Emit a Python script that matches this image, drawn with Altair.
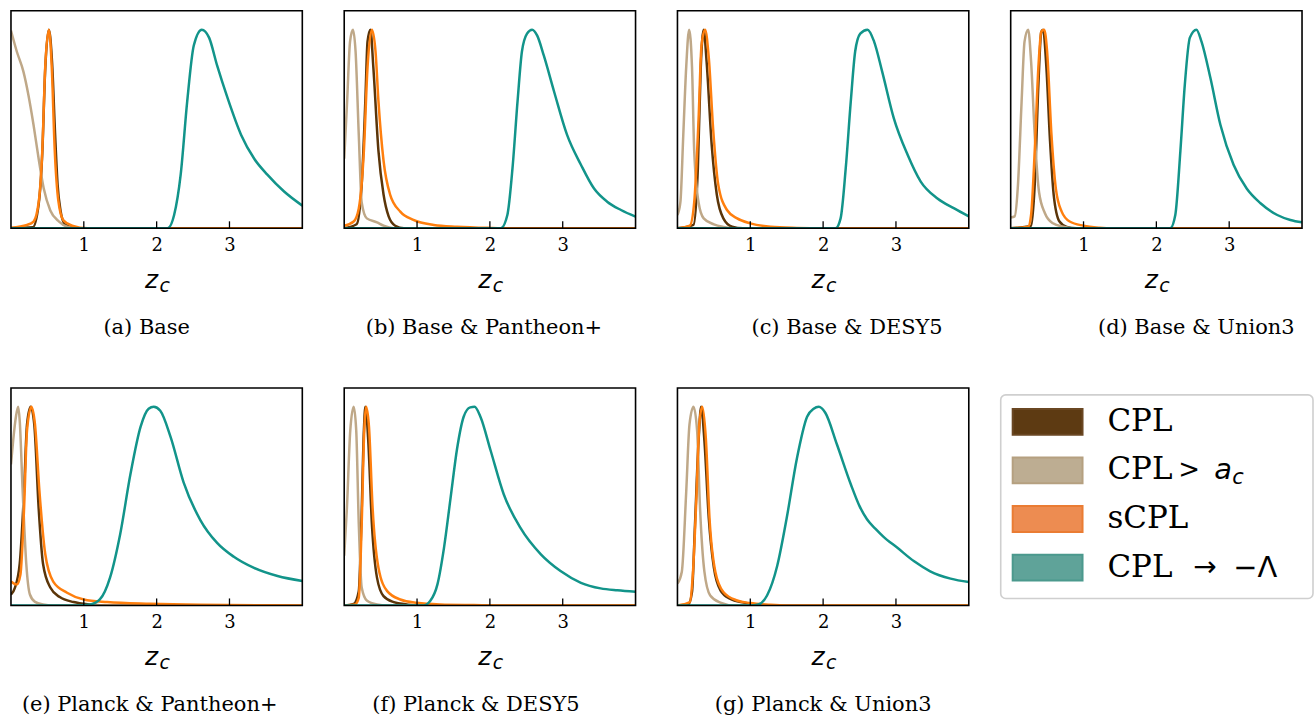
import altair as alt
import pandas as pd

# ---------------- data ----------------
SERIES = ["CPL", "CPL > a_c", "sCPL", "CPL → −Λ"]
LINE_COLORS = ["#5b3509", "#bfa888", "#ff7f0e", "#12948a"]
PATCH_FILL = ["#5d3a12", "#bdad92", "#ed8c51", "#5fa399"]
PATCH_EDGE = ["#6a4723", "#b5a080", "#ea7c33", "#4b998d"]
LEGEND_MAIN = ["CPL", "CPL", "sCPL", "CPL"]
CAPTIONS = ["(a) Base", "(b) Base & Pantheon+", "(c) Base & DESY5", "(d) Base & Union3",
            "(e) Planck & Pantheon+", "(f) Planck & DESY5", "(g) Planck & Union3"]
TICKS = [1, 2, 3]
X_DOMAIN = [0, 4]
Y_DOMAIN = [0, 1.095]

# (a) Base
CPL_A = [(0, 0), (0.3, 0.005), (0.38, 0.12), (0.43, 0.38), (0.47, 0.8), (0.52, 1.0), (0.565, 0.83),
         (0.605, 0.48), (0.64, 0.22), (0.68, 0.09), (0.74, 0.02), (0.85, 0.003), (1.0, 0), (4, 0)]
ACS_A = [(0, 0.995), (0.08, 0.89), (0.17, 0.79), (0.24, 0.67), (0.31, 0.52), (0.38, 0.35), (0.45, 0.2),
         (0.54, 0.09), (0.66, 0.034), (0.77, 0.008), (0.91, 0), (4, 0)]
SCPL_A = [(0, 0.003), (0.22, 0.017), (0.31, 0.034), (0.38, 0.13), (0.43, 0.39), (0.47, 0.81), (0.52, 1.0),
          (0.56, 0.81), (0.6, 0.4), (0.65, 0.14), (0.72, 0.04), (0.84, 0.013), (1.05, 0), (4, 0)]
LAM_A = [(0, 0), (2.15, 0), (2.24, 0.067), (2.33, 0.27), (2.42, 0.64), (2.51, 0.92), (2.62, 1.0),
         (2.72, 0.96), (2.83, 0.82), (2.97, 0.66), (3.16, 0.47), (3.34, 0.35), (3.52, 0.27),
         (3.75, 0.185), (4.0, 0.114)]

# (b) Base & Pantheon+
CPL_B = [(0, 0), (0.17, 0.02), (0.24, 0.22), (0.29, 0.64), (0.32, 0.94), (0.36, 1.0), (0.40, 0.81),
         (0.47, 0.39), (0.54, 0.17), (0.61, 0.06), (0.70, 0.013), (0.82, 0), (4, 0)]
ACS_B = [(0, 0.35), (0.04, 0.64), (0.08, 0.94), (0.12, 1.0), (0.156, 0.89), (0.2, 0.47), (0.24, 0.13),
         (0.31, 0.05), (0.45, 0.03), (0.54, 0.013), (0.68, 0), (4, 0)]
SCPL_B = [(0, 0.013), (0.13, 0.034), (0.2, 0.1), (0.27, 0.39), (0.32, 0.81), (0.38, 1.0), (0.43, 0.89),
          (0.47, 0.64), (0.54, 0.34), (0.63, 0.17), (0.77, 0.084), (0.95, 0.042), (1.23, 0.017),
          (1.55, 0.008), (2.0, 0.002), (2.3, 0), (4, 0)]
LAM_B = [(0, 0), (2.15, 0), (2.24, 0.067), (2.31, 0.30), (2.38, 0.64), (2.44, 0.89), (2.51, 0.98),
         (2.58, 1.0), (2.65, 0.97), (2.74, 0.87), (2.88, 0.69), (3.06, 0.47), (3.25, 0.32), (3.43, 0.2),
         (3.61, 0.134), (3.80, 0.092), (4.0, 0.059)]

# (c) Base & DESY5
CPL_C = [(0, 0), (0.22, 0.017), (0.28, 0.3), (0.32, 0.81), (0.36, 1.0), (0.4, 0.84), (0.47, 0.42),
         (0.54, 0.17), (0.63, 0.05), (0.75, 0.008), (0.9, 0), (4, 0)]
ACS_C = [(0, 0.067), (0.04, 0.13), (0.08, 0.47), (0.12, 0.81), (0.16, 1.0), (0.2, 0.81), (0.23, 0.39),
         (0.29, 0.13), (0.36, 0.05), (0.5, 0.02), (0.63, 0.007), (0.77, 0), (4, 0)]
SCPL_C = [(0, 0), (0.17, 0.013), (0.23, 0.13), (0.29, 0.55), (0.33, 0.92), (0.38, 1.0), (0.43, 0.86),
          (0.49, 0.5), (0.56, 0.22), (0.68, 0.092), (0.82, 0.05), (1.0, 0.025), (1.28, 0.008),
          (1.64, 0.002), (2.0, 0), (4, 0)]
LAM_C = [(0, 0), (2.17, 0), (2.24, 0.05), (2.31, 0.3), (2.38, 0.64), (2.44, 0.89), (2.51, 0.98),
         (2.61, 1.0), (2.7, 0.94), (2.81, 0.79), (2.97, 0.555), (3.16, 0.37), (3.34, 0.235),
         (3.57, 0.15), (3.8, 0.1), (4.0, 0.06)]

# (d) Base & Union3
CPL_D = [(0, 0), (0.28, 0.013), (0.33, 0.22), (0.38, 0.72), (0.42, 0.99), (0.445, 1.0), (0.49, 0.81),
         (0.54, 0.44), (0.59, 0.17), (0.67, 0.034), (0.77, 0.007), (0.9, 0), (4, 0)]
ACS_D = [(0, 0.054), (0.055, 0.06), (0.1, 0.22), (0.15, 0.64), (0.19, 0.94), (0.24, 1.0), (0.28, 0.84),
         (0.33, 0.47), (0.39, 0.18), (0.47, 0.076), (0.58, 0.025), (0.72, 0.008), (0.9, 0), (4, 0)]
SCPL_D = [(0, 0), (0.24, 0.008), (0.28, 0.067), (0.33, 0.39), (0.38, 0.81), (0.42, 0.99), (0.46, 1.0),
          (0.5, 0.89), (0.56, 0.47), (0.62, 0.2), (0.7, 0.084), (0.81, 0.034), (1.0, 0.013),
          (1.22, 0.003), (1.4, 0), (4, 0)]
LAM_D = [(0, 0), (2.19, 0), (2.26, 0.067), (2.33, 0.39), (2.39, 0.72), (2.46, 0.96), (2.55, 1.0),
         (2.62, 0.94), (2.74, 0.76), (2.88, 0.52), (3.06, 0.32), (3.24, 0.2), (3.43, 0.126),
         (3.66, 0.067), (3.84, 0.042), (4.0, 0.03)]

# (e) Planck & Pantheon+
CPL_E = [(0, 0.055), (0.055, 0.09), (0.12, 0.21), (0.18, 0.58), (0.22, 0.91), (0.27, 1.0), (0.32, 0.91),
         (0.38, 0.49), (0.44, 0.21), (0.54, 0.09), (0.67, 0.042), (0.86, 0.017), (1.09, 0.005),
         (1.32, 0), (4, 0)]
ACS_E = [(0, 0.71), (0.03, 0.83), (0.07, 0.955), (0.1, 1.0), (0.12, 0.93), (0.16, 0.58), (0.21, 0.21),
         (0.26, 0.055), (0.33, 0.018), (0.44, 0.005), (0.58, 0), (4, 0)]
SCPL_E = [(0, 0.12), (0.08, 0.105), (0.13, 0.156), (0.18, 0.49), (0.22, 0.88), (0.28, 1.0), (0.33, 0.91),
          (0.39, 0.58), (0.47, 0.26), (0.58, 0.12), (0.77, 0.064), (1.0, 0.03), (1.32, 0.017),
          (1.91, 0.008), (2.6, 0.003), (4, 0)]
LAM_E = [(0, 0), (0.9, 0), (1.09, 0.005), (1.22, 0.03), (1.36, 0.14), (1.5, 0.36), (1.64, 0.66),
         (1.78, 0.9), (1.89, 0.99), (1.96, 1.0), (2.05, 0.98), (2.19, 0.85), (2.37, 0.62), (2.6, 0.43),
         (2.83, 0.315), (3.06, 0.245), (3.33, 0.19), (3.66, 0.148), (4.0, 0.123)]

# (f) Planck & DESY5
CPL_F = [(0, 0), (0.13, 0.008), (0.2, 0.072), (0.235, 0.41), (0.27, 0.88), (0.29, 1.0), (0.33, 0.83),
         (0.38, 0.41), (0.45, 0.14), (0.54, 0.047), (0.68, 0.017), (0.86, 0.005), (1.0, 0), (4, 0)]
ACS_F = [(0, 0.25), (0.037, 0.49), (0.083, 0.88), (0.13, 1.0), (0.165, 0.88), (0.2, 0.41), (0.24, 0.09),
         (0.31, 0.025), (0.45, 0.005), (0.59, 0), (4, 0)]
SCPL_F = [(0, 0), (0.15, 0.005), (0.2, 0.039), (0.24, 0.41), (0.275, 0.88), (0.3, 1.0), (0.34, 0.9),
          (0.39, 0.49), (0.47, 0.19), (0.59, 0.072), (0.77, 0.03), (1.0, 0.013), (1.32, 0.005),
          (1.78, 0.002), (2.2, 0), (4, 0)]
LAM_F = [(0, 0), (1.09, 0), (1.18, 0.022), (1.28, 0.106), (1.37, 0.29), (1.46, 0.54), (1.55, 0.79),
         (1.64, 0.95), (1.73, 0.997), (1.79, 1.0), (1.87, 0.95), (2.01, 0.78), (2.19, 0.56), (2.42, 0.39),
         (2.7, 0.257), (2.97, 0.173), (3.25, 0.114), (3.52, 0.086), (3.75, 0.076), (4.0, 0.069)]

# (g) Planck & Union3
CPL_G = [(0, 0), (0.15, 0.005), (0.2, 0.068), (0.24, 0.4), (0.29, 0.83), (0.325, 1.0), (0.37, 0.83),
         (0.43, 0.44), (0.5, 0.19), (0.59, 0.076), (0.72, 0.034), (0.91, 0.014), (1.14, 0.003),
         (1.3, 0), (4, 0)]
ACS_G = [(0, 0.11), (0.06, 0.17), (0.12, 0.57), (0.165, 0.91), (0.22, 1.0), (0.27, 0.88), (0.31, 0.49),
         (0.37, 0.17), (0.45, 0.05), (0.59, 0.014), (0.77, 0), (4, 0)]
SCPL_G = [(0, 0), (0.17, 0.017), (0.21, 0.15), (0.26, 0.54), (0.3, 0.91), (0.34, 1.0), (0.39, 0.84),
          (0.44, 0.44), (0.52, 0.17), (0.63, 0.068), (0.82, 0.025), (1.0, 0.012), (1.28, 0.003),
          (1.5, 0), (4, 0)]
LAM_G = [(0, 0), (1.0, 0), (1.11, 0.005), (1.23, 0.05), (1.37, 0.2), (1.5, 0.44), (1.64, 0.74),
         (1.78, 0.95), (1.87, 0.99), (1.94, 1.0), (2.03, 0.97), (2.19, 0.81), (2.38, 0.61), (2.5, 0.5),
         (2.6, 0.435), (2.72, 0.385), (2.83, 0.345), (3.02, 0.29), (3.25, 0.222), (3.47, 0.172),
         (3.75, 0.135), (4.0, 0.118)]

PANEL_CURVES = [
    [CPL_A, ACS_A, SCPL_A, LAM_A],
    [CPL_B, ACS_B, SCPL_B, LAM_B],
    [CPL_C, ACS_C, SCPL_C, LAM_C],
    [CPL_D, ACS_D, SCPL_D, LAM_D],
    [CPL_E, ACS_E, SCPL_E, LAM_E],
    [CPL_F, ACS_F, SCPL_F, LAM_F],
    [CPL_G, ACS_G, SCPL_G, LAM_G],
]

# ---------------- layout / style ----------------
W, H = 292, 218
CAPTION_DX = [-10, -6, 24, 40, -7, -14, 0]
DUMMY = pd.DataFrame({"k": [0]})


def panel(idx):
    rows = []
    for name, pts in zip(SERIES, PANEL_CURVES[idx]):
        for z, p in pts:
            rows.append({"series": name, "z": z, "p": p})
    df = pd.DataFrame(rows)
    xsc = alt.Scale(domain=X_DOMAIN, nice=False, zero=False)
    ysc = alt.Scale(domain=Y_DOMAIN, nice=False)
    xaxis = alt.Axis(values=TICKS, title=None, labelFont="DejaVu Serif", labelFontSize=18,
                     labelColor="black", ticks=False, domain=False, grid=False, labelPadding=8,
                     labelFlush=False)
    color = alt.Color("series:N", scale=alt.Scale(domain=SERIES, range=LINE_COLORS), legend=None)
    layers = []
    for name in SERIES:
        layers.append(
            alt.Chart(df).transform_filter(alt.datum.series == name)
            .mark_line(interpolate="monotone", strokeWidth=2.5, clip=True)
            .encode(x=alt.X("z:Q", scale=xsc, axis=xaxis),
                    y=alt.Y("p:Q", scale=ysc, axis=None),
                    color=color)
        )
    ticks = alt.Chart(pd.DataFrame({"t": TICKS})).mark_rule(color="black", strokeWidth=1.3).encode(
        x=alt.X("t:Q", scale=xsc, axis=xaxis), y=alt.value(H), y2=alt.value(H - 7))
    frame = alt.Chart(DUMMY).mark_rect(fill="white", fillOpacity=0, stroke="black", strokeWidth=1.6).encode(
        x=alt.value(0), x2=alt.value(W), y=alt.value(0), y2=alt.value(H))
    zlab = alt.Chart(DUMMY).mark_text(text="z", font="DejaVu Sans", fontStyle="italic", fontSize=25,
                                      align="center", baseline="alphabetic", color="black").encode(
        x=alt.value(W / 2 - 5), y=alt.value(H + 60))
    clab = alt.Chart(DUMMY).mark_text(text="c", font="DejaVu Sans", fontStyle="italic", fontSize=19,
                                      align="center", baseline="alphabetic", color="black").encode(
        x=alt.value(W / 2 + 8), y=alt.value(H + 64))
    cap = alt.Chart(DUMMY).mark_text(text=CAPTIONS[idx], font="DejaVu Serif", fontSize=21,
                                     align="center", baseline="alphabetic", color="black").encode(
        x=alt.value(W / 2 + CAPTION_DX[idx]), y=alt.value(H + 106))
    return alt.layer(*layers, ticks, frame, zlab, clab, cap).properties(width=W, height=H)


def legend():
    ldf = pd.DataFrame({"series": SERIES, "main": LEGEND_MAIN})
    ysc = alt.Scale(domain=SERIES, range=[21, 193], paddingInner=0.47, paddingOuter=0)
    yenc = alt.Y("series:N", scale=ysc, axis=None)
    box = alt.Chart(DUMMY).mark_rect(fill="white", stroke="#cfcfcf", strokeWidth=1.6, cornerRadius=5).encode(
        x=alt.value(-10), x2=alt.value(303), y=alt.value(7), y2=alt.value(211))
    patches = alt.Chart(ldf).mark_rect(strokeWidth=2).encode(
        y=yenc, x=alt.value(2), x2=alt.value(72),
        fill=alt.Fill("series:N", scale=alt.Scale(domain=SERIES, range=PATCH_FILL), legend=None),
        stroke=alt.Stroke("series:N", scale=alt.Scale(domain=SERIES, range=PATCH_EDGE), legend=None))
    labels = alt.Chart(ldf).mark_text(font="DejaVu Serif", fontSize=31, align="left", baseline="middle",
                                      color="black").encode(y=yenc, x=alt.value(97), text="main:N")

    def sym(row, txt, xpos, size, italic=False, dy=0):
        kw = dict(text=txt, font="DejaVu Sans", fontSize=size, align="left", baseline="middle",
                  color="black", dy=dy)
        if italic:
            kw["fontStyle"] = "italic"
        return alt.Chart(ldf).transform_filter(alt.datum.series == SERIES[row]).mark_text(**kw).encode(
            y=yenc, x=alt.value(xpos))

    parts = [
        sym(1, ">", 168, 26),
        sym(1, "a", 204, 29, italic=True),
        sym(1, "c", 222, 21, italic=True, dy=8),
        sym(3, "→", 183, 28),
        sym(3, "−Λ", 223, 29),
    ]
    return alt.layer(box, patches, labels, *parts).properties(width=W, height=H)


charts = [panel(i) for i in range(7)] + [legend()]

chart = alt.concat(*charts, columns=4, spacing={"row": 160, "column": 42}, bounds="flush").properties(
    padding={"left": 10, "top": 9, "right": 0, "bottom": 0},
    background="white",
).configure_view(strokeOpacity=0)

chart.save("out.html", embed_options={"renderer": "svg", "actions": False})
